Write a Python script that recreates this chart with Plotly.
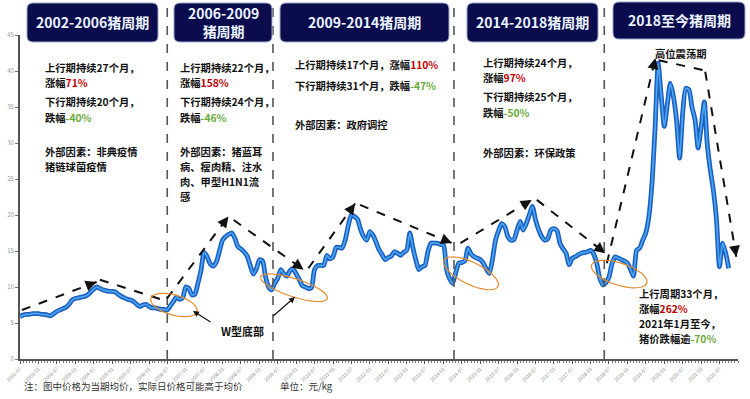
import math
import pandas as pd
import plotly.graph_objects as go

# ---------------- data (元/kg, monthly average) ----------------
price = [
    # 2002 (Jul-Dec)
    5.9, 6.1, 6.2, 6.2, 6.3, 6.3,
    # 2003
    6.3, 6.2, 6.2, 6.1, 6.0, 6.3, 6.6, 6.8, 7.0, 7.2, 7.6, 8.2,
    # 2004
    8.4, 8.5, 8.6, 8.7, 8.9, 9.3, 9.7, 10.0, 9.8, 9.6, 9.5, 9.4,
    # 2005
    9.4, 9.3, 9.0, 8.7, 8.5, 8.3, 8.2, 8.0, 7.6, 7.3, 7.5, 7.6,
    # 2006
    7.3, 7.1, 7.1, 7.0, 6.9, 6.9, 6.8, 7.4, 8.0, 8.6, 8.3, 8.5,
    # 2007
    10.0, 9.8, 8.9, 9.0, 10.5, 12.3, 14.8, 14.2, 13.2, 12.9, 13.5, 15.0,
    # 2008
    16.5, 17.0, 17.3, 17.5, 16.8, 15.6, 15.3, 14.9, 14.3, 13.0, 11.8, 12.5,
    # 2009
    13.8, 13.6, 11.5, 10.0, 9.6, 10.5, 11.2, 12.4, 11.8, 11.5, 12.3, 12.5,
    # 2010
    11.8, 11.0, 10.2, 10.0, 9.8, 9.9, 12.4, 13.0, 13.0, 13.0, 14.4, 13.9,
    # 2011
    14.2, 15.5, 15.5, 15.4, 16.5, 18.5, 20.0, 19.8, 19.4, 18.0, 17.0, 16.5,
    # 2012
    17.7, 17.2, 16.3, 15.2, 14.5, 13.8, 14.1, 14.3, 14.9, 14.7, 14.4, 14.8,
    # 2013
    15.1, 17.5, 15.6, 13.8, 12.4, 12.8, 13.0, 15.0, 16.1, 16.1, 16.1, 15.9,
    # 2014
    15.8, 12.4, 11.2, 10.5, 11.9, 13.3, 13.4, 13.6, 15.4, 14.6, 14.2, 14.0,
    # 2015
    13.8, 13.3, 12.5, 11.9, 13.8, 16.5, 17.8, 18.8, 18.4, 17.0, 16.5, 16.6,
    # 2016
    17.9, 19.1, 17.9, 18.8, 20.0, 21.2, 19.4, 18.0, 17.0, 16.5, 16.7, 17.9,
    # 2017
    18.1, 17.8, 16.1, 15.3, 14.7, 13.1, 14.0, 14.2, 14.5, 14.7, 14.8, 14.9,
    # 2018
    15.1, 14.5, 13.3, 11.2, 10.3, 10.6, 11.4, 13.3, 14.2, 14.0, 13.8, 13.6,
    # 2019
    13.3, 12.4, 11.5, 15.1, 15.4, 16.5, 17.5, 19.8, 24.5, 32.0, 41.1, 36.5,
    # 2020
    32.3, 35.5, 38.3, 36.4, 33.2, 27.9, 34.1, 37.6, 37.4, 35.0, 33.2, 29.3,
    # 2021 (Jan-Oct)
    32.3, 35.7, 30.0, 26.3, 23.5, 19.5, 12.8, 16.1, 14.7, 12.6,
]
first_month = "2002-07-01"
months = pd.date_range(first_month, periods=len(price), freq="MS")

tick_dates = pd.date_range("2002-07-01", "2021-07-01", freq="6MS")
tick_labels = [d.strftime("%Y-%m") for d in tick_dates]
y_ticks = [0, 5, 10, 15, 20, 25, 30, 35, 40, 45]

# cycle boundaries
cycle_breaks = ["2006-07-01", "2009-05-15", "2014-04-15", "2018-05-15"]

# dashed trend arrows (start date, start value, end date, end value)
trend_segments = [
    ("2002-07-20", 6.8, "2004-07-30", 10.7),
    ("2004-09-01", 11.0, "2006-05-20", 8.2),
    ("2006-06-28", 8.4, "2008-02-28", 19.8),
    ("2008-04-20", 19.3, "2010-03-15", 12.4),
    ("2010-05-01", 12.6, "2011-08-08", 21.6),
    ("2011-09-26", 21.4, "2014-03-25", 16.1),
    ("2014-06-18", 16.1, "2016-05-25", 22.1),
    ("2016-07-15", 22.1, "2018-05-25", 14.7),
    ("2018-06-10", 13.3, "2019-10-05", 41.8),
    ("2019-11-06", 41.5, "2021-01-25", 40.1),
    ("2021-02-10", 39.9, "2021-12-15", 14.2),
]

# W-bottom ellipses (centre date, centre value)
w_bottoms = [("2006-09-05", 7.5), ("2009-12-10", 9.9), ("2014-10-01", 11.9), ("2018-10-10", 11.8)]

# ---------------- layout geometry ----------------
W, H = 750, 399
ML, MR, MT, MB = 20, 12, 35, 40
PW, PH = W - ML - MR, H - MT - MB


def px2paper(px, py):
    return (px - ML) / PW, (H - MB - py) / PH


fig = go.Figure()
fig.add_trace(go.Scatter(x=months, y=price, mode="lines",
                         line=dict(color="#1c5fc0", width=4.8, shape="spline", smoothing=0.6),
                         hoverinfo="skip", showlegend=False))
fig.add_trace(go.Scatter(x=months, y=price, mode="lines",
                         line=dict(color="#4aa6f0", width=1.7, shape="spline", smoothing=0.6),
                         hoverinfo="skip", showlegend=False))

shapes = []
annotations = []

# cycle separators
for d in cycle_breaks:
    shapes.append(dict(type="line", xref="x", yref="paper", x0=d, x1=d, y0=0, y1=1.11,
                       line=dict(color="#555555", width=1.6, dash="dash")))

# trend arrows
for sd, sv, ed, ev in trend_segments:
    shapes.append(dict(type="line", xref="x", yref="y", x0=sd, y0=sv, x1=ed, y1=ev,
                       line=dict(color="#111111", width=2, dash="dash")))
    ts, te = pd.Timestamp(sd), pd.Timestamp(ed)
    f = 0.06
    tail_t = te + (ts - te) * f
    tail_v = ev + (sv - ev) * f
    annotations.append(dict(x=ed, y=ev, xref="x", yref="y", ax=tail_t, ay=tail_v,
                            axref="x", ayref="y", text="", showarrow=True,
                            arrowhead=2, arrowsize=1.1, arrowwidth=2, arrowcolor="#111111",
                            standoff=0))

# ellipses (pixel geometry anchored on data); pixel y grows downward here
ell_geom = [(24, 10, 16), (35, 9, 18), (30, 11, 26), (29, 11, 18)]
for (cd, cv), (a, b, ang) in zip(w_bottoms, ell_geom):
    th = math.radians(-ang)
    pts = []
    for k in range(49):
        u = 2 * math.pi * k / 48
        x = a * math.cos(u) * math.cos(th) - b * math.sin(u) * math.sin(th)
        y = a * math.cos(u) * math.sin(th) + b * math.sin(u) * math.cos(th)
        pts.append(f"{x:.2f},{y:.2f}")
    path = "M" + " L".join(pts) + " Z"
    shapes.append(dict(type="path", xref="x", yref="y", xsizemode="pixel", ysizemode="pixel",
                       xanchor=cd, yanchor=cv, path=path,
                       line=dict(color="#e48a2a", width=1.2)))

# header boxes
headers = [
    (27, 3, 158, 42, "2002-2006猪周期"),
    (174, 3, 272, 42, "2006-2009<br>猪周期"),
    (280, 3, 449, 42, "2009-2014猪周期"),
    (467, 3, 598, 42, "2014-2018猪周期"),
    (613, 2, 745, 39, "2018至今猪周期"),
]
r = 6
for x0, y0, x1, y1, txt in headers:
    def P(px, py):
        a, b = px2paper(px, py)
        return f"{a:.5f},{b:.5f}"
    path = ("M" + P(x0 + r, y0) + " L" + P(x1 - r, y0) + " Q" + P(x1, y0) + " " + P(x1, y0 + r) +
            " L" + P(x1, y1 - r) + " Q" + P(x1, y1) + " " + P(x1 - r, y1) +
            " L" + P(x0 + r, y1) + " Q" + P(x0, y1) + " " + P(x0, y1 - r) +
            " L" + P(x0, y0 + r) + " Q" + P(x0, y0) + " " + P(x0 + r, y0) + " Z")
    shapes.append(dict(type="path", xref="paper", yref="paper", path=path,
                       fillcolor="#0a0c4e", line=dict(color="#9aa6c4", width=1)))
    cx, cy = px2paper((x0 + x1) / 2, (y0 + y1) / 2)
    annotations.append(dict(x=cx, y=cy, xref="paper", yref="paper", text=f"<b>{txt}</b>",
                            showarrow=False, xanchor="center", yanchor="middle",
                            font=dict(size=14, color="#eaf3ff", family="Noto Sans CJK SC"),
                            align="center"))

RED = "#c00000"
GRN = "#6aaa3a"


def red(s):
    return f"<span style='color:{RED}'>{s}</span>"


def grn(s):
    return f"<span style='color:{GRN}'>{s}</span>"


texts = [
    (43, 67, "上行期持续27个月，"), (43, 82, "涨幅" + red("71%")),
    (43, 101, "下行期持续20个月，"), (43, 117, "跌幅" + grn("-40%")),
    (43, 151, "外部因素：非典疫情"), (43, 166, "猪链球菌疫情"),
    (178, 67, "上行期持续22个月，"), (178, 82, "涨幅" + red("158%")),
    (178, 101, "下行期持续24个月，"), (178, 117, "跌幅" + grn("-46%")),
    (178, 151, "外部因素：猪蓝耳"), (178, 166, "病、瘦肉精、注水"),
    (178, 181, "肉、甲型H1N1流"), (178, 196, "感"),
    (293, 65, "上行期持续17个月，涨幅" + red("110%")),
    (293, 85, "下行期持续31个月，跌幅" + grn("-47%")),
    (293, 124, "外部因素：政府调控"),
    (481, 62, "上行期持续24个月，"), (481, 77, "涨幅" + red("97%")),
    (481, 97, "下行期持续25个月，"), (481, 113, "跌幅" + grn("-50%")),
    (481, 152, "外部因素：环保政策"),
    (637, 293, "上行周期33个月，"), (637, 308, "涨幅" + red("262%")),
    (637, 323, "2021年1月至今，"), (637, 338, "猪价跌幅逾" + grn("-70%")),
]
for px, py, t in texts:
    ax_, ay_ = px2paper(px, py)
    annotations.append(dict(x=ax_, y=ay_, xref="paper", yref="paper", text=f"<b>{t}</b>",
                            showarrow=False, xanchor="left", yanchor="middle",
                            font=dict(size=10.3, color="#111111", family="Noto Sans CJK SC")))

# 高位震荡期
hx, hy = px2paper(680, 53)
annotations.append(dict(x=hx, y=hy, xref="paper", yref="paper", text="<b>高位震荡期</b>",
                        showarrow=False, xanchor="center", yanchor="middle",
                        font=dict(size=10.3, color="#111111", family="Noto Sans CJK SC")))

# W型底部 label + arrows
wx, wy = px2paper(243, 331)
annotations.append(dict(x=wx, y=wy, xref="paper", yref="paper", text="<b>W型底部</b>",
                        showarrow=False, xanchor="center", yanchor="middle",
                        font=dict(size=11, color="#111111", family="Noto Sans CJK SC")))
for (hpx, hpy, tpx, tpy) in [(193, 311, 212, 323), (295, 297, 272, 317)]:
    a_, b_ = px2paper(hpx, hpy)
    annotations.append(dict(x=a_, y=b_, xref="paper", yref="paper", text="", showarrow=True,
                            ax=tpx - hpx, ay=tpy - hpy, arrowhead=2, arrowsize=1,
                            arrowwidth=1.2, arrowcolor="#111111", standoff=0))

# bottom notes
for px, t in [(22, "注：图中价格为当期均价，实际日价格可能高于均价"), (278, "单位：元/kg")]:
    a_, b_ = px2paper(px, 386)
    annotations.append(dict(x=a_, y=b_, xref="paper", yref="paper", text=t, showarrow=False,
                            xanchor="left", yanchor="middle",
                            font=dict(size=9.5, color="#333333", family="Noto Sans CJK SC")))

fig.update_layout(
    width=W, height=H,
    margin=dict(l=ML, r=MR, t=MT, b=MB),
    paper_bgcolor="white", plot_bgcolor="white",
    shapes=shapes, annotations=annotations, showlegend=False,
    font=dict(family="Noto Sans CJK SC"),
)
fig.update_xaxes(
    type="date", range=["2002-07-01", "2022-01-01"], automargin=False,
    tickvals=list(tick_dates), ticktext=tick_labels, tickangle=-45,
    tickfont=dict(size=5, color="#888888"),
    showgrid=False, zeroline=False,
    showline=True, linecolor="#555555", linewidth=2,
    ticks="outside", ticklen=3, tickcolor="#555555", tickwidth=1,
    minor=dict(ticks="outside", ticklen=2, dtick="M1", tickcolor="#777777", tickwidth=1),
)
fig.update_yaxes(
    range=[0, 45], tickvals=y_ticks, tickfont=dict(size=6, color="#999999"), automargin=False,
    showgrid=False, zeroline=False,
    showline=True, linecolor="#555555", linewidth=2,
    ticks="outside", ticklen=3, tickcolor="#777777",
)

fig.write_html("out.html", config={"displayModeBar": False},
               post_script="document.body.style.margin='0';document.body.style.overflow='hidden';")
